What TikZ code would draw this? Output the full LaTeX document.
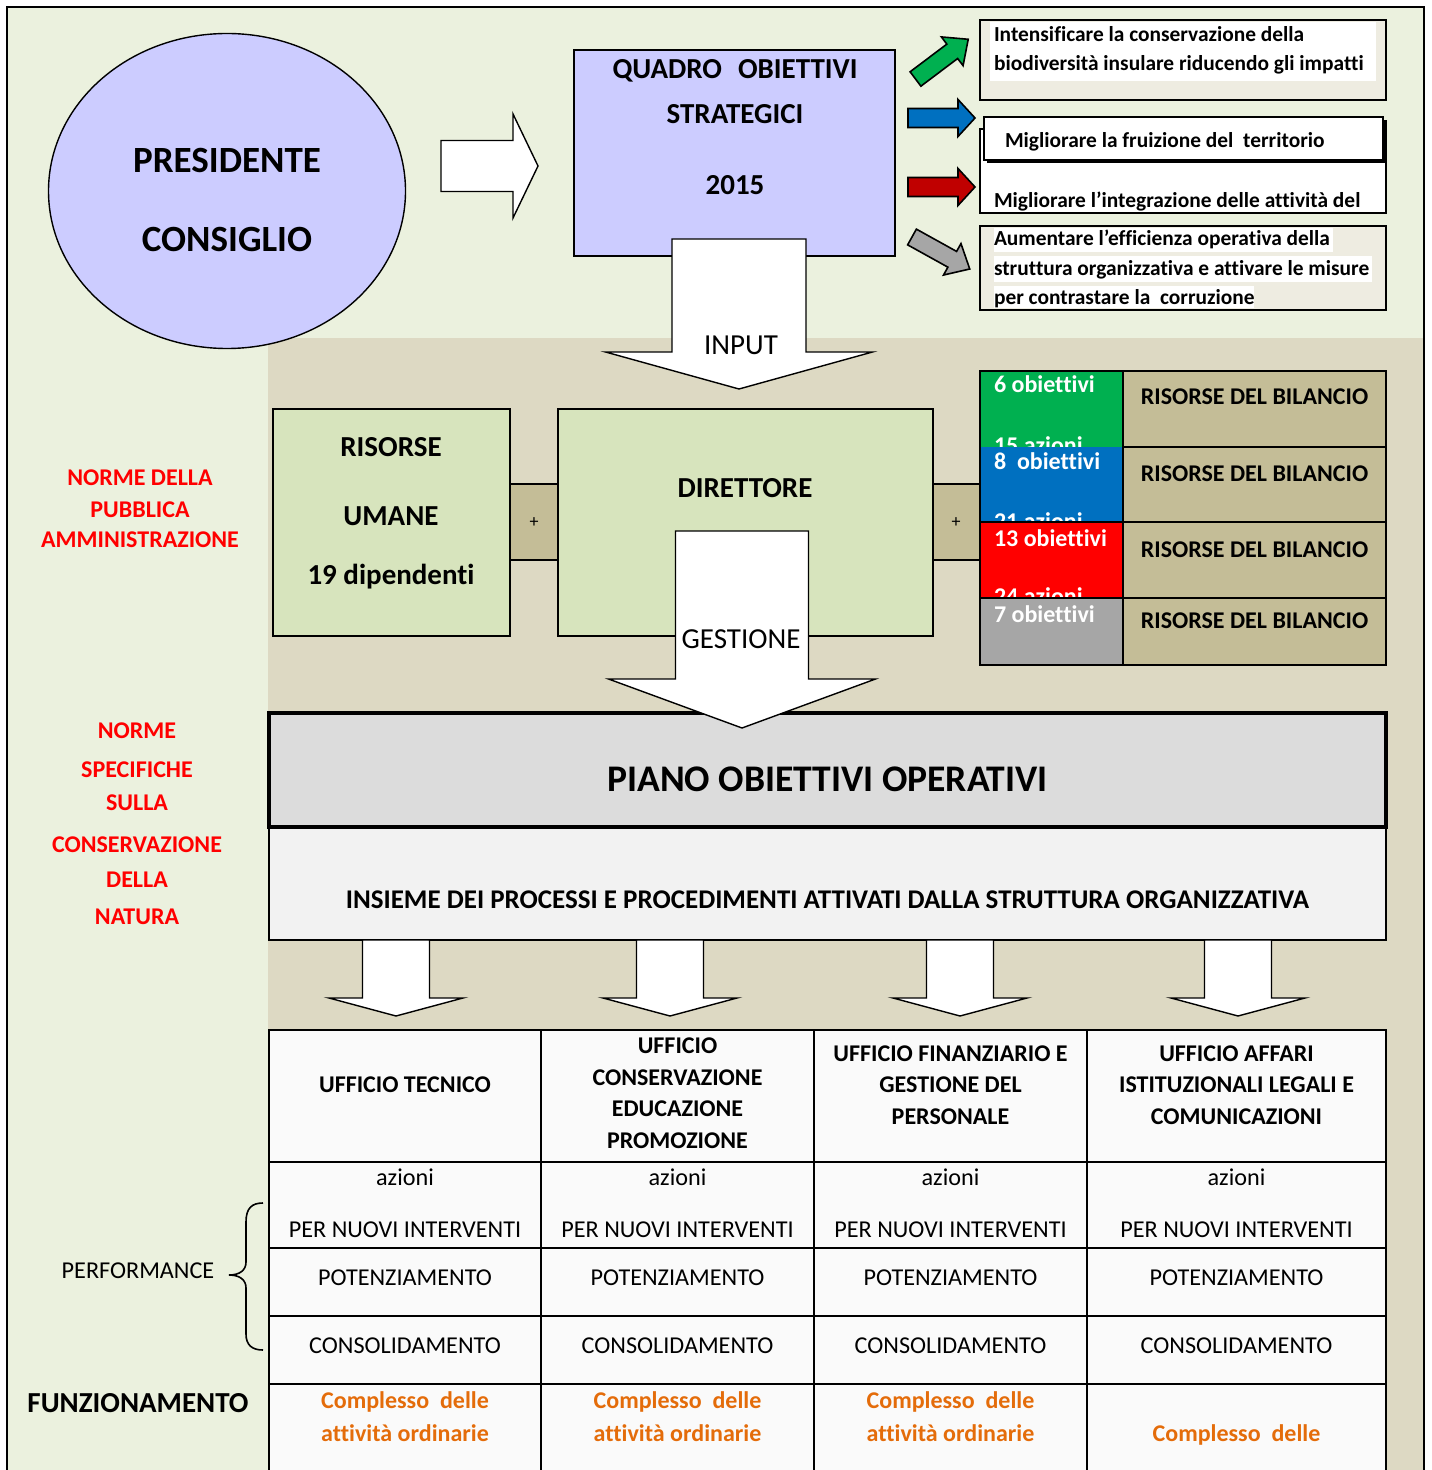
\documentclass[tikz,border=0pt]{standalone}
\usepackage{fontspec}
\setmainfont{Carlito}[RawFeature={-liga;-dlig;-clig;-calt}]
\usetikzlibrary{shapes.geometric}
\definecolor{lgreen}{HTML}{EBF1DE}
\definecolor{beige}{HTML}{DDD9C3}
\definecolor{lav}{HTML}{CCCCFF}
\definecolor{olivel}{HTML}{D7E4BD}
\definecolor{tanc}{HTML}{C4BD97}
\definecolor{paper}{HTML}{EEECE1}
\definecolor{pianogray}{HTML}{DCDCDC}
\definecolor{insgray}{HTML}{F2F2F2}
\definecolor{objgreen}{HTML}{00B050}
\definecolor{objblue}{HTML}{0070C0}
\definecolor{objred}{HTML}{FF0000}
\definecolor{objgray}{HTML}{A6A6A6}
\definecolor{arrred}{HTML}{C00000}
\definecolor{orangetxt}{HTML}{E46C0A}
\definecolor{tabfill}{HTML}{FAFAFA}
\newcommand\boxnode[6]{\node[#1, inner sep=0pt, outer sep=0pt, anchor=north west,
  minimum width={(#5-#3)*0.5pt}, minimum height={(#6-#4)*0.5pt}] (#2) at (#3,#4) {};}
\newcommand\blockarr[8]{%
  \begin{scope}[shift={(#2,#3)}, rotate=#4]
    \draw[#1] (0,-#6) -- ({#5-#8},-#6) -- ({#5-#8},-#7) -- (#5,0) -- ({#5-#8},#7) -- ({#5-#8},#6) -- (0,#6) -- cycle;
  \end{scope}}
\begin{document}
\begin{tikzpicture}[x=0.5pt,y=-0.5pt,
  box/.style={draw=black, line width=1pt},
  barrow/.style={draw=black, line width=0.7pt, fill=white, line join=miter},
  carrow/.style={draw=black, line width=0.8pt, line join=miter},
  t/.style={inner sep=0pt, outer sep=0pt, anchor=base},
  tl/.style={inner sep=0pt, outer sep=0pt, anchor=base west},
  big/.style={font=\fontsize{18.5}{22}\selectfont\bfseries},
  hb/.style={font=\fontsize{14.5}{17}\selectfont\bfseries},
  hr/.style={font=\fontsize{14.5}{17}\selectfont},
  tb/.style={font=\fontsize{12}{14}\selectfont\bfseries},
  insf/.style={font=\fontsize{13.5}{16}\selectfont\bfseries},
  tr/.style={font=\fontsize{12.1}{14}\selectfont},
  sb/.style={font=\fontsize{10.7}{12}\selectfont\bfseries},
  pianof/.style={font=\fontsize{18.8}{22}\selectfont\bfseries},
  plusf/.style={font=\fontsize{9}{11}\selectfont},
  redt/.style={t, tb, text=objred},
  oranget/.style={t, tb, text=orangetxt},
  whitet/.style={tl, tb, text=white}]
\useasboundingbox (0,0) rectangle (1431,1470);
\clip (0,0) rectangle (1431,1470);
% backgrounds
\fill[lgreen] (7,7) rectangle (1424,1490);
\fill[beige] (268,338) rectangle (1424,1490);

% President ellipse
\node[ellipse, draw, line width=0.7pt, fill=lav, inner sep=0pt, minimum width=178.5pt, minimum height=157.5pt] (pres) at (227,191) {};
\node[t,big] (presA) at (227,173) {PRESIDENTE};
\node[t,big] (presB) at (227,252) {CONSIGLIO};

% arrow to quadro
\blockarr{barrow}{441}{166}{0}{97}{25.5}{52}{25}

% Quadro box
\boxnode{box, fill=lav}{quadro}{574}{50}{895}{256}
\node[t,hb] (q1) at (735,79) {QUADRO\hspace{8pt}OBIETTIVI};
\node[t,hb] (q2) at (735,124) {STRATEGICI};
\node[t,hb] (q3) at (735,195) {2015};

% coloured arrows
\blockarr{carrow, fill=objgreen}{915.5}{79}{37}{66}{9}{18}{20}
\blockarr{carrow, fill=objblue}{908}{118}{0}{67}{9.5}{18.5}{17}
\blockarr{carrow, fill=arrred}{908}{187}{0}{67}{9.5}{18.5}{17}
\blockarr{carrow, fill=objgray}{912}{237}{-29}{66}{9}{18}{20}

% strategic objectives boxes
\boxnode{box, fill=paper}{ob1}{980}{20}{1386}{100}
\fill[white] (990,22) rectangle (1376,81);
\node[tl,sb] (ob1a) at (994,42) {Intensificare la conservazione della};
\node[tl,sb] (ob1b) at (994,71) {biodiversità insulare riducendo gli impatti};
\boxnode{box, fill=white}{ob3}{980}{129}{1386}{213}
\fill[black] (987,120) rectangle (1387,163);
\boxnode{box, fill=white}{ob2}{984}{117}{1383}{160}
\node[tl,sb] (ob2a) at (1005,148) {Migliorare la fruizione del\ \ territorio};
\node[tl,sb] (ob3a) at (994,208) {Migliorare l’integrazione delle attività del};
\boxnode{box, fill=paper}{ob4}{980}{226}{1386}{310}
\fill[white] (994,228) rectangle (1333,252);
\fill[white] (994,256) rectangle (1372,282);
\fill[white] (994,286) rectangle (1254,308);
\node[tl,sb] (ob4a) at (994,246) {Aumentare l’efficienza operativa della};
\node[tl,sb] (ob4b) at (994,276) {struttura organizzativa e attivare le misure};
\node[tl,sb] (ob4c) at (994,305) {per contrastare la\ \ corruzione};
\draw[box] (980,226) rectangle (1386,310);

% INPUT arrow
\blockarr{barrow}{739}{239}{-90}{150}{67}{133.5}{37}
\node[t,hr] (input) at (741,355) {INPUT};

% left labels
\node[redt] (n1) at (140,485) {NORME DELLA};
\node[redt] (n2) at (140,517) {PUBBLICA};
\node[redt] (n3) at (140,547) {AMMINISTRAZIONE};
\node[redt] (s1) at (137,738) {NORME};
\node[redt] (s2) at (137,777) {SPECIFICHE};
\node[redt] (s3) at (137,810) {SULLA};
\node[redt] (s4) at (137,852) {CONSERVAZIONE};
\node[redt] (s5) at (137,887) {DELLA};
\node[redt] (s6) at (137,924) {NATURA};

% resources and director
\boxnode{box, fill=olivel}{risorse}{273}{409}{510}{636}
\node[t,hb] (r1) at (391,457) {RISORSE};
\node[t,hb] (r2) at (391,525) {UMANE};
\node[t,hb] (r3) at (391,584) {19 dipendenti};
\boxnode{box, fill=tanc}{plusA}{510}{484}{558}{560}
\node[t,plusf] (pa) at (534,527) {+};
\boxnode{box, fill=olivel}{dir}{558}{409}{933}{636}
\node[t,hb] (d1) at (745,497) {DIRETTORE};
\boxnode{box, fill=tanc}{plusB}{933}{484}{980}{560}
\node[t,plusf] (pb) at (956,527) {+};

% operative objectives grid
\fill[objgreen] (980,371) rectangle (1123,447);
\node[whitet] (g1) at (994,393) {6 obiettivi};
\begin{scope}
  \clip (980,371) rectangle (1123,447);
  \node[whitet] (g1b) at (994,453) {15 azioni};
\end{scope}
\fill[objblue] (980,447) rectangle (1123,522);
\node[whitet] (g2) at (994,469) {8\ \ obiettivi};
\begin{scope}
  \clip (980,447) rectangle (1123,522);
  \node[whitet] (g2b) at (994,529) {21 azioni};
\end{scope}
\fill[objred] (980,522) rectangle (1123,598);
\node[whitet] (g3) at (994,546) {13 obiettivi};
\begin{scope}
  \clip (980,522) rectangle (1123,598);
  \node[whitet] (g3b) at (994,604) {24 azioni};
\end{scope}
\fill[objgray] (980,598) rectangle (1123,665);
\node[whitet] (g4) at (994,622) {7 obiettivi};
\fill[tanc] (1123,371) rectangle (1386,665);
\draw[line width=1pt] (980,371) rectangle (1386,665);
\draw[line width=1pt] (1123,371) -- (1123,665);
\draw[line width=1pt] (1123,447) -- (1386,447);
\draw[line width=1pt] (980,522) -- (1386,522);
\draw[line width=1pt] (980,598) -- (1386,598);
\node[t,tb] (rb1) at (1254.5,405) {RISORSE DEL BILANCIO};
\node[t,tb] (rb2) at (1254.5,481) {RISORSE DEL BILANCIO};
\node[t,tb] (rb3) at (1254.5,557) {RISORSE DEL BILANCIO};
\node[t,tb] (rb4) at (1254.5,628) {RISORSE DEL BILANCIO};

% piano and insieme
\boxnode{box, fill=insgray}{insieme}{269}{827}{1386}{940}
\boxnode{draw=black, line width=1.8pt, fill=pianogray}{piano}{269}{713}{1386}{827}
\node[t,pianof] (pianot) at (827.5,791) {PIANO OBIETTIVI OPERATIVI};
\node[t,insf] (inst) at (827.5,908) {INSIEME DEI PROCESSI E PROCEDIMENTI ATTIVATI DALLA STRUTTURA ORGANIZZATIVA};

% GESTIONE arrow
\blockarr{barrow}{742}{531}{-90}{197}{66.5}{133.5}{49}
\node[t,hr] (gest) at (741,648) {GESTIONE};

% four arrows to the offices
\foreach \cx in {396,670,960,1238}{\blockarr{barrow}{\cx}{940}{-90}{76}{33.5}{67}{18}}

% offices table
\boxnode{box, fill=tabfill}{tab}{269}{1030}{1386}{1500}
\foreach \xx in {541,814,1087}{\draw[line width=1pt] (\xx,1030) -- (\xx,1500);}
\foreach \yy in {1162,1248,1316,1384}{\draw[line width=1pt] (269,\yy) -- (1386,\yy);}
\node[t,tb] (u1) at (405,1092) {UFFICIO TECNICO};
\node[t,tb] (u2a) at (677.5,1053) {UFFICIO};
\node[t,tb] (u2b) at (677.5,1085) {CONSERVAZIONE};
\node[t,tb] (u2c) at (677.5,1116.5) {EDUCAZIONE};
\node[t,tb] (u2d) at (677.5,1148) {PROMOZIONE};
\node[t,tb] (u3a) at (950.5,1061) {UFFICIO FINANZIARIO E};
\node[t,tb] (u3b) at (950.5,1092) {GESTIONE DEL};
\node[t,tb] (u3c) at (950.5,1124) {PERSONALE};
\node[t,tb] (u4a) at (1236.5,1061) {UFFICIO AFFARI};
\node[t,tb] (u4b) at (1236.5,1092) {ISTITUZIONALI LEGALI E};
\node[t,tb] (u4c) at (1236.5,1124) {COMUNICAZIONI};
\foreach \cx/\nm in {405/a,677.5/b,950.5/c,1236.5/d}{
  \node[t,tr] (az\nm) at (\cx,1185) {azioni};
  \node[t,tr] (pn\nm) at (\cx,1237) {PER NUOVI INTERVENTI};
  \node[t,tr] (po\nm) at (\cx,1285) {POTENZIAMENTO};
  \node[t,tr] (co\nm) at (\cx,1353) {CONSOLIDAMENTO};
}
\foreach \cx/\nm in {405/a,677.5/b,950.5/c}{
  \node[oranget] (cd\nm) at (\cx,1408) {Complesso\ \ delle};
  \node[oranget] (ao\nm) at (\cx,1441) {attività ordinarie};
}
\node[oranget] (cdd) at (1236.5,1441.5) {Complesso\ \ delle};

% performance brace and labels
\draw[line width=0.8pt] (263,1203) .. controls (252,1203) and (246,1208) .. (246,1222) -- (246,1262)
  .. controls (246,1270) and (240,1275) .. (229,1275) .. controls (240,1275) and (246,1280) .. (246,1288)
  -- (246,1334) .. controls (246,1345) and (252,1350) .. (263,1350);
\node[t,tr] (perf) at (138,1278) {PERFORMANCE};
\node[t,hb] (funz) at (138,1412) {FUNZIONAMENTO};

% outer frame
\draw[line width=1pt] (7,1500) -- (7,7) -- (1424,7) -- (1424,1500);
\end{tikzpicture}
\end{document}
